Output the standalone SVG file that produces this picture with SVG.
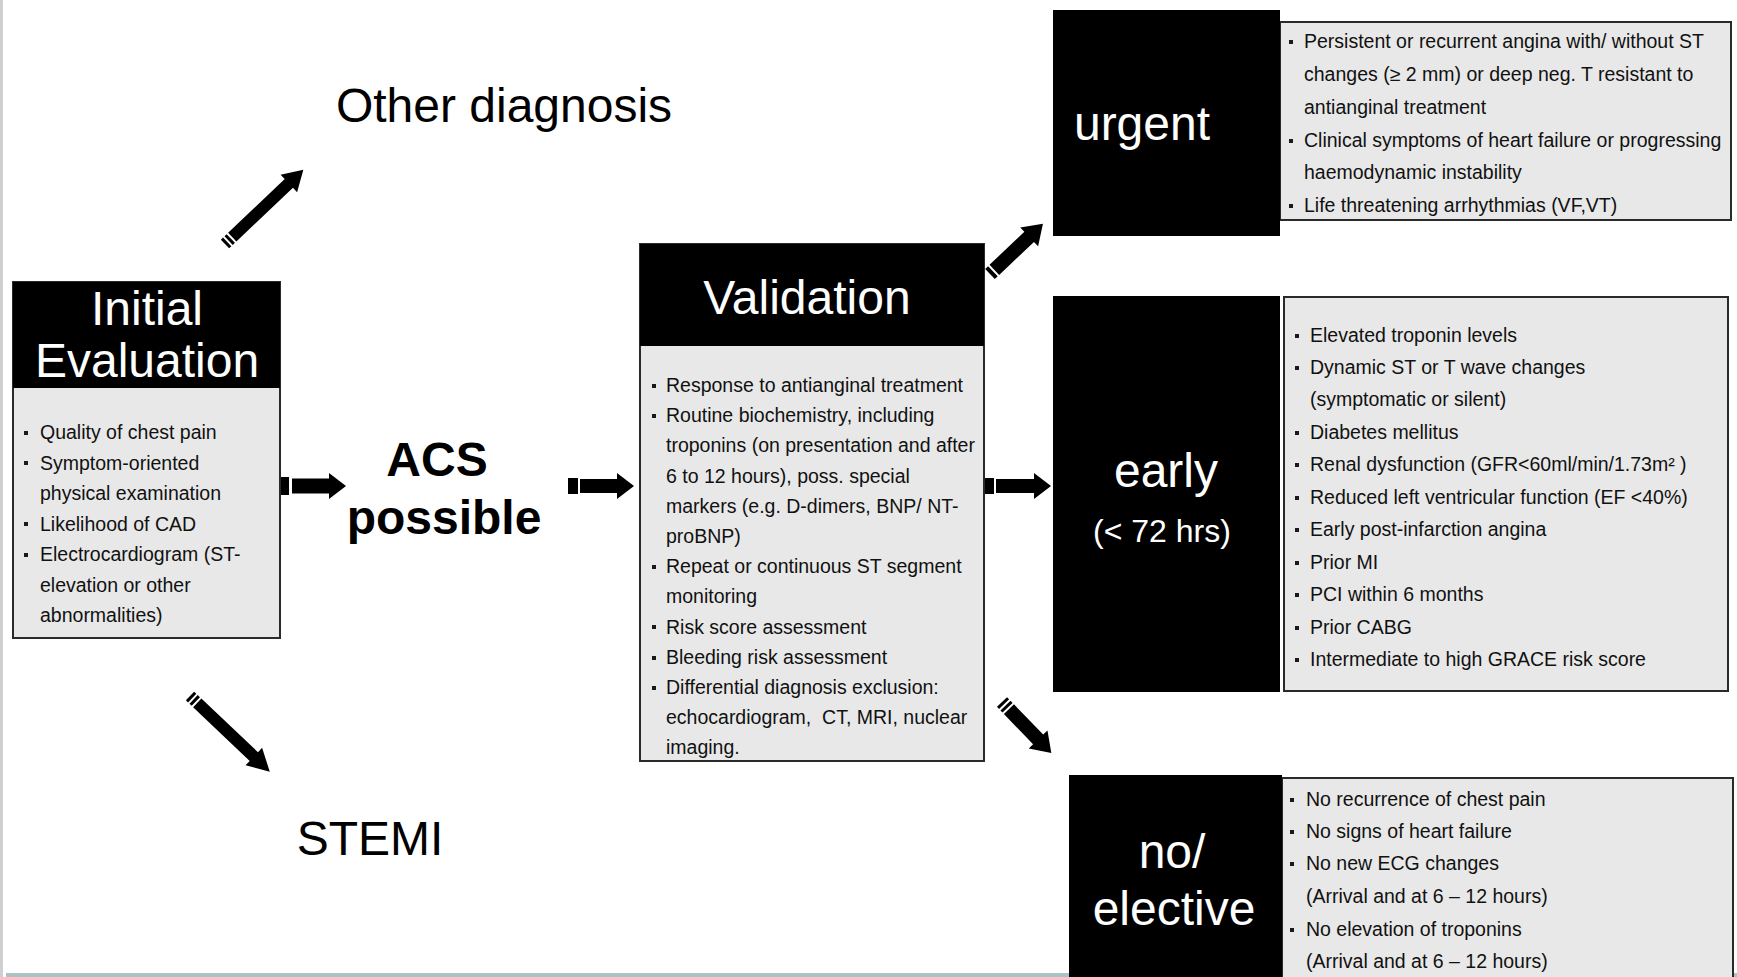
<svg xmlns="http://www.w3.org/2000/svg" width="1737" height="977" viewBox="0 0 1737 977">
<style>
.blk{fill:#000}
.panel{fill:#e8e8e8;stroke:#2a2a2a;stroke-width:2}
.hd{font-family:"Liberation Sans",Arial,sans-serif;fill:#fff;font-size:48px;text-anchor:middle}
.li{font-family:"Liberation Sans",Arial,sans-serif;fill:#111;font-size:19.5px;white-space:pre}
.big{font-family:"Liberation Sans",Arial,sans-serif;fill:#000;font-size:48px;text-anchor:middle}
.arr{fill:#000}
.bu{fill:#1a1a1a}
</style>
<defs>
<rect id="b" class="bu" x="0" y="0" width="4" height="4"/>
</defs>
<rect x="0" y="0" width="1737" height="977" fill="#fff"/>
<rect x="0" y="0" width="3" height="977" fill="#cfcfcf"/>
<rect x="6" y="973" width="1731" height="4" fill="#a9c4c4"/>

<g id="connectors">
  <path class="arr" transform="translate(280,486)" d="M0,-9h9v18h-9z M12,-7.5H49V-13L66,0L49,13V7.5H12z"/>
  <path class="arr" transform="translate(568,486)" d="M0,-8h10v16h-10z M12,-7H49V-13L66,0L49,13V7H12z"/>
  <path class="arr" transform="translate(984,486)" d="M0,-8h10v16h-10z M12,-7H50V-13L67,0L50,13V7H12z"/>
  <path class="arr" transform="translate(225,244) rotate(-43.5)" d="M0,-6h3v12h-3z M5,-6h3v12h-3z M10,-6H88V-12L108,0L88,12V6H10z"/>
  <path class="arr" transform="translate(190,696) rotate(43.5)" d="M0,-6h3v12h-3z M5,-6h3v12h-3z M10,-6H88V-12L110,0L88,12V6H10z"/>
  <path class="arr" transform="translate(990,274) rotate(-43.5)" d="M0,-7h4v14h-4z M6,-7H54V-13L73,0L54,13V7H6z"/>
  <path class="arr" transform="translate(1002,702) rotate(46)" d="M0,-7h3v14h-3z M5,-7h3v14h-3z M10,-7H52V-13L71,0L52,13V7H10z"/>
</g>

<g id="initial-evaluation">
  <rect x="13" y="282" width="267" height="356" fill="#e8e8e8" stroke="#2a2a2a" stroke-width="2"/>
  <rect class="blk" x="13" y="282" width="267" height="106"/>
  <text class="hd" x="147" y="325">Initial</text>
  <text class="hd" x="147" y="377">Evaluation</text>
  <use href="#b" x="24" y="431"/>
  <text class="li" x="40" y="439">Quality of chest pain</text>
  <use href="#b" x="24" y="461"/>
  <text class="li" x="40" y="469.5">Symptom-oriented</text>
  <text class="li" x="40" y="500">physical examination</text>
  <use href="#b" x="24" y="522"/>
  <text class="li" x="40" y="530.5">Likelihood of CAD</text>
  <use href="#b" x="24" y="553"/>
  <text class="li" x="40" y="561">Electrocardiogram (ST-</text>
  <text class="li" x="40" y="591.5">elevation or other</text>
  <text class="li" x="40" y="622">abnormalities)</text>
</g>

<g id="other-diagnosis">
  <text class="big" x="504" y="122">Other diagnosis</text>
</g>

<g id="acs-possible">
  <text class="big" x="437" y="476" font-weight="bold">ACS</text>
  <text class="big" x="444" y="534" font-weight="bold">possible</text>
</g>

<g id="stemi">
  <text class="big" x="370" y="855">STEMI</text>
</g>

<g id="validation">
  <rect x="640" y="244" width="344" height="517" fill="#e8e8e8" stroke="#2a2a2a" stroke-width="2"/>
  <rect class="blk" x="640" y="244" width="344" height="102"/>
  <text class="hd" x="807" y="314">Validation</text>
  <use href="#b" x="652" y="384"/>
  <text class="li" x="666" y="392">Response to antianginal treatment</text>
  <use href="#b" x="652" y="414"/>
  <text class="li" x="666" y="422.2">Routine biochemistry, including</text>
  <text class="li" x="666" y="452.4">troponins (on presentation and after</text>
  <text class="li" x="666" y="482.6">6 to 12 hours), poss. special</text>
  <text class="li" x="666" y="512.8">markers (e.g. D-dimers, BNP/ NT-</text>
  <text class="li" x="666" y="543">proBNP)</text>
  <use href="#b" x="652" y="565"/>
  <text class="li" x="666" y="573.2">Repeat or continuous ST segment</text>
  <text class="li" x="666" y="603.4">monitoring</text>
  <use href="#b" x="652" y="625"/>
  <text class="li" x="666" y="633.6">Risk score assessment</text>
  <use href="#b" x="652" y="656"/>
  <text class="li" x="666" y="663.8">Bleeding risk assessment</text>
  <use href="#b" x="652" y="686"/>
  <text class="li" x="666" y="694">Differential diagnosis exclusion:</text>
  <text class="li" x="666" y="724.2">echocardiogram,  CT, MRI, nuclear</text>
  <text class="li" x="666" y="754.4">imaging.</text>
</g>

<g id="urgent">
  <rect class="panel" x="1280" y="22" width="451" height="198"/>
  <rect class="blk" x="1053" y="10" width="227" height="226"/>
  <text class="hd" x="1142" y="140">urgent</text>
  <use href="#b" x="1289" y="40"/>
  <text class="li" x="1304" y="48">Persistent or recurrent angina with/ without ST</text>
  <text class="li" x="1304" y="81">changes (≥ 2 mm) or deep neg. T resistant to</text>
  <text class="li" x="1304" y="114">antianginal treatment</text>
  <use href="#b" x="1289" y="139"/>
  <text class="li" x="1304" y="147">Clinical symptoms of heart failure or progressing</text>
  <text class="li" x="1304" y="179">haemodynamic instability</text>
  <use href="#b" x="1289" y="204"/>
  <text class="li" x="1304" y="212">Life threatening arrhythmias (VF,VT)</text>
</g>

<g id="early">
  <rect class="blk" x="1053" y="296" width="227" height="396"/>
  <rect class="panel" x="1284" y="297" width="444" height="394"/>
  <text class="hd" x="1166" y="487">early</text>
  <text class="hd" x="1162" y="542" style="font-size:32px">(&lt; 72 hrs)</text>
  <use href="#b" x="1295" y="334"/>
  <text class="li" x="1310" y="342">Elevated troponin levels</text>
  <use href="#b" x="1295" y="366"/>
  <text class="li" x="1310" y="374">Dynamic ST or T wave changes</text>
  <text class="li" x="1310" y="406">(symptomatic or silent)</text>
  <use href="#b" x="1295" y="431"/>
  <text class="li" x="1310" y="439">Diabetes mellitus</text>
  <use href="#b" x="1295" y="463"/>
  <text class="li" x="1310" y="471">Renal dysfunction (GFR&lt;60ml/min/1.73m² )</text>
  <use href="#b" x="1295" y="496"/>
  <text class="li" x="1310" y="504">Reduced left ventricular function (EF &lt;40%)</text>
  <use href="#b" x="1295" y="528"/>
  <text class="li" x="1310" y="536">Early post-infarction angina</text>
  <use href="#b" x="1295" y="561"/>
  <text class="li" x="1310" y="569">Prior MI</text>
  <use href="#b" x="1295" y="593"/>
  <text class="li" x="1310" y="601">PCI within 6 months</text>
  <use href="#b" x="1295" y="626"/>
  <text class="li" x="1310" y="634">Prior CABG</text>
  <use href="#b" x="1295" y="658"/>
  <text class="li" x="1310" y="666">Intermediate to high GRACE risk score</text>
</g>

<g id="no-elective">
  <rect class="panel" x="1282" y="778" width="451" height="205"/>
  <rect class="blk" x="1069" y="775" width="213" height="202"/>
  <text class="hd" x="1172" y="868">no/</text>
  <text class="hd" x="1174" y="925">elective</text>
  <use href="#b" x="1290" y="798"/>
  <text class="li" x="1306" y="806">No recurrence of chest pain</text>
  <use href="#b" x="1290" y="830"/>
  <text class="li" x="1306" y="838">No signs of heart failure</text>
  <use href="#b" x="1290" y="862"/>
  <text class="li" x="1306" y="870">No new ECG changes</text>
  <text class="li" x="1306" y="903">(Arrival and at 6 – 12 hours)</text>
  <use href="#b" x="1290" y="928"/>
  <text class="li" x="1306" y="936">No elevation of troponins</text>
  <text class="li" x="1306" y="968">(Arrival and at 6 – 12 hours)</text>
</g>
</svg>
